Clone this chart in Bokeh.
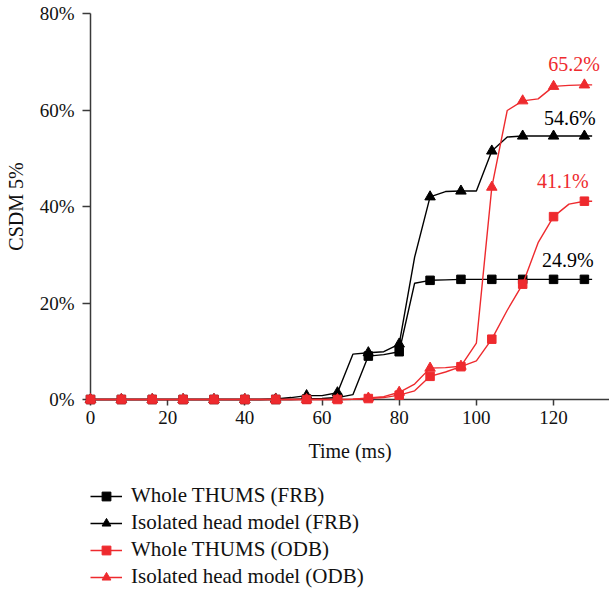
from bokeh.plotting import figure
from bokeh.layouts import column
from bokeh.models import (ColumnDataSource, Legend, LegendItem, FixedTicker,
                          PrintfTickFormatter)
from bokeh.core.properties import value
from bokeh.embed import file_html
from bokeh.resources import INLINE

# ---- data (time in ms, CSDM 5% in percent) ----
time_ms = [0, 4, 8, 12, 16, 20, 24, 28, 32, 36, 40, 44, 48, 52, 56, 60, 64,
           68, 72, 76, 80, 84, 88, 92, 96, 100, 104, 108, 112, 116, 120, 124,
           128, 130]

whole_frb = [0, 0, 0, 0, 0, 0, 0, 0, 0, 0, 0, 0, 0, 0, 0.1, 0.2, 0.4,
             1.0, 9.0, 9.3, 9.9, 24.1, 24.7, 24.8, 24.9, 24.9, 24.9, 24.9,
             24.9, 24.9, 24.9, 24.9, 24.9, 24.9]

head_frb = [0, 0, 0, 0, 0, 0, 0, 0, 0, 0, 0, 0, 0.1, 0.4, 0.8, 0.8, 1.4,
            9.4, 9.7, 9.9, 11.5, 29.5, 42.0, 43.1, 43.2, 43.2, 51.5, 54.4,
            54.6, 54.6, 54.6, 54.6, 54.6, 54.6]

whole_odb = [0, 0, 0, 0, 0, 0, 0, 0, 0, 0, 0, 0, 0, 0, 0, 0, 0,
             0.05, 0.2, 0.4, 0.9, 1.8, 4.8, 5.7, 6.8, 8.0, 12.5, 18.5,
             23.9, 32.5, 37.9, 40.5, 41.1, 41.1]

head_odb = [0, 0, 0, 0, 0, 0, 0, 0, 0, 0, 0, 0, 0, 0, 0, 0, 0,
            0.05, 0.3, 0.6, 1.5, 3.2, 6.5, 6.6, 6.9, 11.7, 44.0, 59.9,
            61.9, 62.3, 64.9, 65.1, 65.2, 65.2]

series_names = ["Whole THUMS (FRB)", "Isolated head model (FRB)",
                "Whole THUMS (ODB)", "Isolated head model (ODB)"]
final_labels = ["24.9%", "54.6%", "41.1%", "65.2%"]

x_ticks = [0, 20, 40, 60, 80, 100, 120]
y_ticks = [0, 20, 40, 60, 80]

# ---- style ----
FONT = "Liberation Serif"
BLACK = "#000000"
RED = "#ee2a2e"
AXIS = "#3a3a3a"

p = figure(width=609, height=470, x_range=(0, 134.5), y_range=(0, 80),
           output_backend="svg", toolbar_location=None,
           min_border_left=90, min_border_right=0, min_border_top=13,
           min_border_bottom=71)
p.outline_line_color = None
p.grid.visible = False
p.background_fill_color = "white"
p.border_fill_color = "white"

p.xaxis.ticker = FixedTicker(ticks=x_ticks)
p.yaxis.ticker = FixedTicker(ticks=y_ticks)
p.yaxis.formatter = PrintfTickFormatter(format="%d%%")
p.xaxis.axis_label = "Time (ms)"
p.yaxis.axis_label = "CSDM 5%"
for ax in (p.xaxis, p.yaxis):
    ax.axis_line_color = AXIS
    ax.axis_line_width = 1.5
    ax.major_tick_line_color = AXIS
    ax.major_tick_line_width = 1.5
    ax.major_tick_in = 0
    ax.minor_tick_line_color = None
    ax.major_label_text_font = FONT
    ax.major_label_text_font_size = "19px"
    ax.major_label_text_color = "#111111"
    ax.axis_label_text_font = FONT
    ax.axis_label_text_font_size = "20px"
    ax.axis_label_text_font_style = "normal"
    ax.axis_label_text_color = "#111111"
p.xaxis.major_tick_out = 6
p.yaxis.major_tick_out = 8
p.xaxis.major_label_standoff = 5
p.yaxis.major_label_standoff = 8
p.xaxis.axis_label_standoff = 13
p.yaxis.axis_label_standoff = 10

# marker subset: every 8 ms
mark_idx = [i for i, t in enumerate(time_ms) if t % 8 == 0]

all_series = [whole_frb, head_frb, whole_odb, head_odb]
colors = [BLACK, BLACK, RED, RED]
markers = ["square", "triangle", "square", "triangle"]
sizes = [8.5, 10.5, 8.5, 10.5]

line_sources = []
mark_sources = []
for ys, col, mk, sz in zip(all_series, colors, markers, sizes):
    src = ColumnDataSource(dict(x=time_ms, y=ys))
    msrc = ColumnDataSource(dict(x=[time_ms[i] for i in mark_idx],
                                 y=[ys[i] for i in mark_idx]))
    line_sources.append(src)
    mark_sources.append(msrc)
    p.line("x", "y", source=src, line_color=col, line_width=1.4,
           level="overlay")
    p.scatter("x", "y", source=msrc, marker=mk, size=sz,
              fill_color=col, line_color=col, level="overlay")

# end-value labels
label_x = [123.7, 124.2, 122.4, 125.3]
label_y = [29.0, 58.3, 45.2, 69.5]
label_colors = [BLACK, BLACK, RED, RED]
p.text(x=label_x, y=label_y, text=final_labels, text_color=label_colors,
       text_font=value(FONT), text_font_size="20px", text_align="center",
       text_baseline="middle")

# ---- legend panel below the chart (same series, view range kept empty) ----
lg = figure(width=609, height=120, x_range=(500, 501), y_range=(500, 501),
            output_backend="svg", toolbar_location=None,
            x_axis_type=None, y_axis_type=None,
            min_border_left=0, min_border_right=0, min_border_top=0,
            min_border_bottom=0)
lg.outline_line_color = None
lg.grid.visible = False
lg.background_fill_color = "white"

items = []
for name, col, mk, sz, src, msrc in zip(series_names, colors, markers, sizes,
                                        line_sources, mark_sources):
    lr = lg.line("x", "y", source=src, line_color=col, line_width=1.4)
    sr = lg.scatter("x", "y", source=msrc, marker=mk, size=sz - 0.5,
                    fill_color=col, line_color=col)
    items.append(LegendItem(label=name, renderers=[lr, sr]))

legend = Legend(items=items, location=(0, 1), orientation="vertical",
                border_line_color=None, background_fill_alpha=0,
                padding=0, margin=0, spacing=2, glyph_width=32,
                glyph_height=22, label_height=22, label_standoff=9,
                label_text_font=FONT, label_text_font_size="21px",
                label_text_color="#111111")
lg.add_layout(legend)

layout = column(p, lg, spacing=0)
open("out.html", "w").write(file_html(layout, INLINE))
